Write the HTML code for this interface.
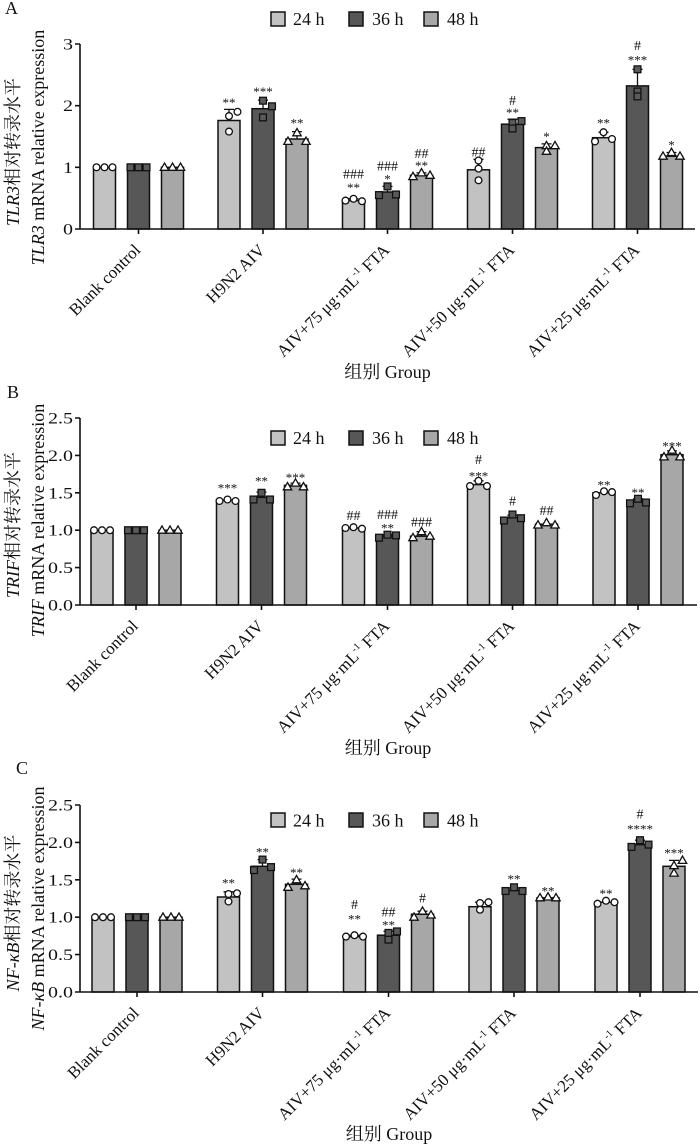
<!DOCTYPE html>
<html><head><meta charset="utf-8"><style>
html,body{margin:0;padding:0;background:#fff}
svg{display:block}
text{font-family:"Liberation Serif","Noto Serif CJK SC",serif;fill:#111}
.bar{stroke:#111;stroke-width:1.5}
.l{fill:#c2c2c2}.d{fill:#575757}.m{fill:#a7a7a7}
.eb{stroke:#111;stroke-width:1.3;fill:none}
.ax{stroke:#111;stroke-width:1.6;fill:none}
.st{font-size:13px;text-anchor:middle}
.hs{font-size:14px;text-anchor:middle}
.tk{font-size:16px;text-anchor:end}
.xl{font-size:17px;text-anchor:end}
.lg{font-size:18px}
.yl{font-size:18px;text-anchor:middle}
.gp{font-size:18px;text-anchor:middle}
.pl{font-size:18px}
</style></head><body>
<svg width="700" height="1145" viewBox="0 0 700 1145" xmlns="http://www.w3.org/2000/svg">
<defs>
<circle id="mc" r="3.4" fill="#fff" stroke="#111" stroke-width="1.3"/>
<rect id="ms" x="-3.4" y="-3.4" width="6.8" height="6.8" fill="#5a5a5a" stroke="#111" stroke-width="1.3"/>
<path id="mt" d="M0,-4.3L4.2,3L-4.2,3Z" fill="#fff" stroke="#111" stroke-width="1.3"/>
</defs>

<!-- ================= PANEL A ================= -->
<text class="pl" x="5" y="14">A</text>
<rect x="271" y="12" width="14" height="14" class="bar l"/><text class="lg" x="293" y="25">24 h</text>
<rect x="349" y="12" width="14" height="14" class="bar d"/><text class="lg" x="372" y="25">36 h</text>
<rect x="424" y="12" width="14" height="14" class="bar m"/><text class="lg" x="447" y="25">48 h</text>

<text class="yl" transform="translate(19,152) rotate(-90)"><tspan font-style="italic">TLR3</tspan>相对转录水平</text>
<text class="yl" transform="translate(44,147.5) rotate(-90)"><tspan font-style="italic">TLR3</tspan> mRNA relative expression</text>

<text class="tk" x="73" y="49.5" textLength="10" lengthAdjust="spacingAndGlyphs">3</text>
<text class="tk" x="73" y="111.2" textLength="10" lengthAdjust="spacingAndGlyphs">2</text>
<text class="tk" x="73" y="172.8" textLength="10" lengthAdjust="spacingAndGlyphs">1</text>
<text class="tk" x="73" y="234.5" textLength="10" lengthAdjust="spacingAndGlyphs">0</text>

<!-- A G1 -->
<rect class="bar l" x="93.5" y="167.3" width="22" height="61.7"/>
<rect class="bar d" x="127.5" y="167.3" width="22" height="61.7"/>
<rect class="bar m" x="161.5" y="167.3" width="22" height="61.7"/>
<use href="#mc" x="96.5" y="167.3"/><use href="#mc" x="104.5" y="167.3"/><use href="#mc" x="112.5" y="167.3"/>
<use href="#ms" x="130.5" y="167.3"/><use href="#ms" x="138.5" y="167.3"/><use href="#ms" x="146.5" y="167.3"/>
<use href="#mt" x="164.5" y="167.3"/><use href="#mt" x="172.5" y="167.3"/><use href="#mt" x="180.5" y="167.3"/>
<!-- A G2 -->
<rect class="bar l" x="218" y="120.5" width="22" height="108.5"/>
<path class="eb" d="M229,120.5V109.4M224,109.4H234"/>
<use href="#mc" x="229" y="116.1"/><use href="#mc" x="237.5" y="111.8"/><use href="#mc" x="229" y="131.6"/>
<rect class="bar d" x="252" y="108.7" width="22" height="120.3"/>
<path class="eb" d="M263,108.7V100.1M258,100.1H268"/>
<use href="#ms" x="263" y="100.7"/><use href="#ms" x="272" y="106.3"/><use href="#ms" x="263" y="117.4"/>
<rect class="bar m" x="286" y="139" width="22" height="90"/>
<path class="eb" d="M297,139V131.6M292,131.6H302"/>
<use href="#mt" x="288" y="141.4"/><use href="#mt" x="297" y="132.8"/><use href="#mt" x="306" y="141.4"/>
<text class="st" x="229" y="107">**</text>
<text class="st" x="263" y="96">***</text>
<text class="st" x="297" y="127.7">**</text>
<!-- A G3 -->
<rect class="bar l" x="342.5" y="200.6" width="22" height="28.4"/>
<path class="eb" d="M353.5,200.6V198.8M348.5,198.8H358.5"/>
<use href="#mc" x="345.5" y="200.6"/><use href="#mc" x="353.5" y="198.8"/><use href="#mc" x="362" y="201.2"/>
<rect class="bar d" x="376.5" y="192" width="22" height="37"/>
<path class="eb" d="M387.5,192V186.4M382.5,186.4H392.5"/>
<use href="#ms" x="379" y="195.1"/><use href="#ms" x="387.5" y="186.4"/><use href="#ms" x="396" y="194.5"/>
<rect class="bar m" x="410.5" y="175.3" width="22" height="53.7"/>
<path class="eb" d="M421.5,175.3V172.9M416.5,172.9H426.5"/>
<use href="#mt" x="413" y="176.6"/><use href="#mt" x="421.5" y="172.9"/><use href="#mt" x="430" y="175.3"/>
<text class="st" x="353.5" y="192">**</text><text class="hs" x="353.5" y="178.3">###</text>
<text class="st" x="387.5" y="183.7">*</text><text class="hs" x="387.5" y="170.7">###</text>
<text class="st" x="421.5" y="170">**</text><text class="hs" x="421.5" y="158">##</text>
<!-- A G4 -->
<rect class="bar l" x="467.5" y="169.8" width="22" height="59.2"/>
<path class="eb" d="M478.5,169.8V159.3M473.5,159.3H483.5"/>
<use href="#mc" x="478.5" y="160.5"/><use href="#mc" x="478.5" y="168.6"/><use href="#mc" x="478.5" y="180.3"/>
<rect class="bar d" x="501.5" y="124.2" width="22" height="104.8"/>
<path class="eb" d="M512.5,124.2V119.2M507.5,119.2H517.5"/>
<use href="#ms" x="512.5" y="122.9"/><use href="#ms" x="512.5" y="128.5"/><use href="#ms" x="521.5" y="121.1"/>
<rect class="bar m" x="535.5" y="147.6" width="22" height="81.4"/>
<path class="eb" d="M546.5,147.6V143.9M541.5,143.9H551.5"/>
<use href="#mt" x="546.5" y="145.7"/><use href="#mt" x="546.5" y="151.3"/><use href="#mt" x="555" y="145.7"/>
<text class="hs" x="478.5" y="156.7">##</text>
<text class="st" x="512.5" y="117">**</text><text class="hs" x="512.5" y="105">#</text>
<text class="st" x="546.5" y="141">*</text>
<!-- A G5 -->
<rect class="bar l" x="592.5" y="137.7" width="22" height="91.3"/>
<path class="eb" d="M603.5,137.7V132.2M598.5,132.2H608.5"/>
<use href="#mc" x="595" y="141.4"/><use href="#mc" x="603.5" y="132.2"/><use href="#mc" x="612" y="139"/>
<rect class="bar d" x="626.5" y="85.9" width="22" height="143.1"/>
<path class="eb" d="M637.5,85.9V69.3M632.5,69.3H642.5"/>
<use href="#ms" x="637.5" y="69.3"/><use href="#ms" x="637.5" y="91.5"/><use href="#ms" x="637.5" y="96.4"/>
<rect class="bar m" x="660.5" y="156.2" width="22" height="72.8"/>
<path class="eb" d="M671.5,156.2V152.5M666.5,152.5H676.5"/>
<use href="#mt" x="663" y="156.2"/><use href="#mt" x="671.5" y="152.5"/><use href="#mt" x="680" y="156.2"/>
<text class="st" x="603.5" y="127.7">**</text>
<text class="st" x="637.5" y="64.3">***</text><text class="hs" x="637.5" y="50">#</text>
<text class="st" x="671.5" y="149.7">*</text>

<path class="ax" d="M80,44V229H695M75,44H80M75,105.7H80M75,167.3H80M75,229H80M138.5,229V234M263,229V234M387.5,229V234M512.5,229V234M637.5,229V234"/>

<text class="xl" transform="translate(141.5,251) rotate(-45)">Blank control</text>
<text class="xl" transform="translate(266,251) rotate(-45)">H9N2 AIV</text>
<text class="xl" transform="translate(390.5,251) rotate(-45)">AIV+75 μg·mL<tspan font-size="10" dy="-7">-1</tspan><tspan dy="7"> FTA</tspan></text>
<text class="xl" transform="translate(515.5,251) rotate(-45)">AIV+50 μg·mL<tspan font-size="10" dy="-7">-1</tspan><tspan dy="7"> FTA</tspan></text>
<text class="xl" transform="translate(640.5,251) rotate(-45)">AIV+25 μg·mL<tspan font-size="10" dy="-7">-1</tspan><tspan dy="7"> FTA</tspan></text>
<text class="gp" x="387.5" y="378">组别 Group</text>

<!-- ================= PANEL B ================= -->
<text class="pl" x="7" y="398">B</text>
<rect x="271" y="431" width="14" height="14" class="bar l"/><text class="lg" x="293" y="444">24 h</text>
<rect x="349" y="431" width="14" height="14" class="bar d"/><text class="lg" x="372" y="444">36 h</text>
<rect x="424" y="431" width="14" height="14" class="bar m"/><text class="lg" x="447" y="444">48 h</text>

<text class="yl" transform="translate(19,525) rotate(-90)"><tspan font-style="italic">TRIF</tspan>相对转录水平</text>
<text class="yl" transform="translate(44,520.5) rotate(-90)"><tspan font-style="italic">TRIF</tspan> mRNA relative expression</text>

<text class="tk" x="73" y="423.5" textLength="25" lengthAdjust="spacingAndGlyphs">2.5</text>
<text class="tk" x="73" y="460.9" textLength="25" lengthAdjust="spacingAndGlyphs">2.0</text>
<text class="tk" x="73" y="498.3" textLength="25" lengthAdjust="spacingAndGlyphs">1.5</text>
<text class="tk" x="73" y="535.7" textLength="25" lengthAdjust="spacingAndGlyphs">1.0</text>
<text class="tk" x="73" y="573.1" textLength="25" lengthAdjust="spacingAndGlyphs">0.5</text>
<text class="tk" x="73" y="610.5" textLength="25" lengthAdjust="spacingAndGlyphs">0.0</text>

<!-- B G1 -->
<rect class="bar l" x="91" y="530.2" width="22" height="74.8"/>
<rect class="bar d" x="125" y="530.2" width="22" height="74.8"/>
<rect class="bar m" x="159" y="530.2" width="22" height="74.8"/>
<use href="#mc" x="94" y="530.2"/><use href="#mc" x="102" y="530.2"/><use href="#mc" x="110" y="530.2"/>
<use href="#ms" x="128" y="530.2"/><use href="#ms" x="136" y="530.2"/><use href="#ms" x="144" y="530.2"/>
<use href="#mt" x="162" y="530.2"/><use href="#mt" x="170" y="530.2"/><use href="#mt" x="178" y="530.2"/>
<!-- B G2 -->
<rect class="bar l" x="216.5" y="500.3" width="22" height="104.7"/>
<use href="#mc" x="219.5" y="501"/><use href="#mc" x="227.5" y="499.5"/><use href="#mc" x="235.5" y="501"/>
<rect class="bar d" x="250.5" y="497.3" width="22" height="107.7"/>
<path class="eb" d="M261.5,497.3V492.1M256.5,492.1H266.5"/>
<use href="#ms" x="253.5" y="499.5"/><use href="#ms" x="261.5" y="492.8"/><use href="#ms" x="270" y="499.5"/>
<rect class="bar m" x="284.5" y="485.3" width="22" height="119.7"/>
<path class="eb" d="M295.5,485.3V483.1M290.5,483.1H300.5"/>
<use href="#mt" x="287.5" y="486.8"/><use href="#mt" x="295.5" y="483.1"/><use href="#mt" x="303.5" y="486.8"/>
<text class="st" x="227.5" y="492.7">***</text>
<text class="st" x="261.5" y="485.3">**</text>
<text class="st" x="295.5" y="482">***</text>
<!-- B G3 -->
<rect class="bar l" x="342.5" y="528" width="22" height="77"/>
<use href="#mc" x="345.5" y="528"/><use href="#mc" x="353.5" y="527.2"/><use href="#mc" x="362" y="528.7"/>
<rect class="bar d" x="376.5" y="536.2" width="22" height="68.8"/>
<path class="eb" d="M387.5,536.2V534.7M382.5,534.7H392.5"/>
<use href="#ms" x="379" y="537.7"/><use href="#ms" x="387.5" y="534.7"/><use href="#ms" x="396" y="535.4"/>
<rect class="bar m" x="410.5" y="536.2" width="22" height="68.8"/>
<path class="eb" d="M421.5,536.2V531.7M416.5,531.7H426.5"/>
<use href="#mt" x="413" y="537.7"/><use href="#mt" x="421.5" y="531.7"/><use href="#mt" x="430" y="536.2"/>
<text class="hs" x="353.5" y="520">##</text>
<text class="st" x="387.5" y="532.7">**</text><text class="hs" x="387.5" y="519">###</text>
<text class="hs" x="421.5" y="526.7">###</text>
<!-- B G4 -->
<rect class="bar l" x="467.5" y="484.6" width="22" height="120.4"/>
<path class="eb" d="M478.5,484.6V480.8M473.5,480.8H483.5"/>
<use href="#mc" x="470" y="486.1"/><use href="#mc" x="478.5" y="480.8"/><use href="#mc" x="487" y="486.1"/>
<rect class="bar d" x="501.5" y="517.5" width="22" height="87.5"/>
<path class="eb" d="M512.5,517.5V515.2M507.5,515.2H517.5"/>
<use href="#ms" x="504" y="520.5"/><use href="#ms" x="512.5" y="514.5"/><use href="#ms" x="521" y="518.2"/>
<rect class="bar m" x="535.5" y="524.2" width="22" height="80.8"/>
<use href="#mt" x="538" y="525"/><use href="#mt" x="546.5" y="522.7"/><use href="#mt" x="555" y="525"/>
<text class="st" x="478.5" y="480.3">***</text><text class="hs" x="478.5" y="464">#</text>
<text class="hs" x="512.5" y="505.7">#</text>
<text class="hs" x="546.5" y="515">##</text>
<!-- B G5 -->
<rect class="bar l" x="593" y="492.8" width="22" height="112.2"/>
<use href="#mc" x="596" y="495"/><use href="#mc" x="604" y="491.3"/><use href="#mc" x="612" y="492.1"/>
<rect class="bar d" x="627" y="501.8" width="22" height="103.2"/>
<path class="eb" d="M638,501.8V498.8M633,498.8H643"/>
<use href="#ms" x="630" y="503.3"/><use href="#ms" x="638" y="498.8"/><use href="#ms" x="646" y="502.5"/>
<rect class="bar m" x="661" y="454.7" width="22" height="150.3"/>
<path class="eb" d="M672,454.7V450.9M667,450.9H677"/>
<use href="#mt" x="664" y="456.9"/><use href="#mt" x="672" y="450.2"/><use href="#mt" x="680" y="456.9"/>
<text class="st" x="604" y="489.3">**</text>
<text class="st" x="638" y="497">**</text>
<text class="st" x="672" y="450.3">***</text>

<path class="ax" d="M80,418V605H697M75,418H80M75,455.4H80M75,492.8H80M75,530.2H80M75,567.6H80M75,605H80M136,605V610M261.5,605V610M387.5,605V610M512.5,605V610M638,605V610"/>

<text class="xl" transform="translate(139,627) rotate(-45)">Blank control</text>
<text class="xl" transform="translate(264.5,627) rotate(-45)">H9N2 AIV</text>
<text class="xl" transform="translate(390.5,627) rotate(-45)">AIV+75 μg·mL<tspan font-size="10" dy="-7">-1</tspan><tspan dy="7"> FTA</tspan></text>
<text class="xl" transform="translate(515.5,627) rotate(-45)">AIV+50 μg·mL<tspan font-size="10" dy="-7">-1</tspan><tspan dy="7"> FTA</tspan></text>
<text class="xl" transform="translate(641,627) rotate(-45)">AIV+25 μg·mL<tspan font-size="10" dy="-7">-1</tspan><tspan dy="7"> FTA</tspan></text>
<text class="gp" x="388" y="754">组别 Group</text>

<!-- ================= PANEL C ================= -->
<text class="pl" x="16" y="774">C</text>
<rect x="271" y="813" width="14" height="14" class="bar l"/><text class="lg" x="293" y="826.5">24 h</text>
<rect x="349" y="813" width="14" height="14" class="bar d"/><text class="lg" x="372" y="826.5">36 h</text>
<rect x="424" y="813" width="14" height="14" class="bar m"/><text class="lg" x="447" y="826.5">48 h</text>

<text class="yl" transform="translate(19,913) rotate(-90)"><tspan font-style="italic">NF-κB</tspan>相对转录水平</text>
<text class="yl" transform="translate(44,908.5) rotate(-90)"><tspan font-style="italic">NF-κB</tspan> mRNA relative expression</text>

<text class="tk" x="73" y="810.5" textLength="25" lengthAdjust="spacingAndGlyphs">2.5</text>
<text class="tk" x="73" y="847.9" textLength="25" lengthAdjust="spacingAndGlyphs">2.0</text>
<text class="tk" x="73" y="885.3" textLength="25" lengthAdjust="spacingAndGlyphs">1.5</text>
<text class="tk" x="73" y="922.7" textLength="25" lengthAdjust="spacingAndGlyphs">1.0</text>
<text class="tk" x="73" y="960.1" textLength="25" lengthAdjust="spacingAndGlyphs">0.5</text>
<text class="tk" x="73" y="997.5" textLength="25" lengthAdjust="spacingAndGlyphs">0.0</text>

<!-- C G1 -->
<rect class="bar l" x="92" y="917.2" width="22" height="74.8"/>
<rect class="bar d" x="126" y="917.2" width="22" height="74.8"/>
<rect class="bar m" x="160" y="917.2" width="22" height="74.8"/>
<use href="#mc" x="95" y="917.2"/><use href="#mc" x="103" y="917.2"/><use href="#mc" x="111" y="917.2"/>
<use href="#ms" x="129" y="917.2"/><use href="#ms" x="137" y="917.2"/><use href="#ms" x="145" y="917.2"/>
<use href="#mt" x="163" y="917.2"/><use href="#mt" x="171" y="917.2"/><use href="#mt" x="179" y="917.2"/>
<!-- C G2 -->
<rect class="bar l" x="217.5" y="897" width="22" height="95"/>
<path class="eb" d="M228.5,897V891.8M223.5,891.8H233.5"/>
<use href="#mc" x="228.5" y="894"/><use href="#mc" x="237" y="893.3"/><use href="#mc" x="228.5" y="901.5"/>
<rect class="bar d" x="251.5" y="866.3" width="22" height="125.7"/>
<path class="eb" d="M262.5,866.3V859.6M257.5,859.6H267.5"/>
<use href="#ms" x="254" y="870.1"/><use href="#ms" x="262.5" y="859.6"/><use href="#ms" x="271" y="867.1"/>
<rect class="bar m" x="285.5" y="884.3" width="22" height="107.7"/>
<path class="eb" d="M296.5,884.3V879.1M291.5,879.1H301.5"/>
<use href="#mt" x="288" y="887.3"/><use href="#mt" x="296.5" y="879.8"/><use href="#mt" x="305" y="885.8"/>
<text class="st" x="228.5" y="887.7">**</text>
<text class="st" x="262.5" y="856.3">**</text>
<text class="st" x="296.5" y="877">**</text>
<!-- C G3 -->
<rect class="bar l" x="343.5" y="936.6" width="22" height="55.4"/>
<path class="eb" d="M354.5,936.6V935.2M349.5,935.2H359.5"/>
<use href="#mc" x="346" y="936.6"/><use href="#mc" x="354.5" y="935.2"/><use href="#mc" x="363" y="936.6"/>
<rect class="bar d" x="377.5" y="935.2" width="22" height="56.8"/>
<path class="eb" d="M388.5,935.2V931.4M383.5,931.4H393.5"/>
<use href="#ms" x="388.5" y="939.6"/><use href="#ms" x="388.5" y="932.9"/><use href="#ms" x="397" y="931.4"/>
<rect class="bar m" x="411.5" y="914.2" width="22" height="77.8"/>
<path class="eb" d="M422.5,914.2V911.2M417.5,911.2H427.5"/>
<use href="#mt" x="414" y="917.2"/><use href="#mt" x="422.5" y="911.2"/><use href="#mt" x="431" y="915"/>
<text class="st" x="354.5" y="923.7">**</text><text class="hs" x="354.5" y="909">#</text>
<text class="st" x="388.5" y="929.3">**</text><text class="hs" x="388.5" y="916.7">##</text>
<text class="hs" x="422.5" y="902.7">#</text>
<!-- C G4 -->
<rect class="bar l" x="469" y="906.7" width="22" height="85.3"/>
<path class="eb" d="M480,906.7V902.2M475,902.2H485"/>
<use href="#mc" x="480" y="909.7"/><use href="#mc" x="480" y="903"/><use href="#mc" x="488.5" y="902.2"/>
<rect class="bar d" x="503" y="890.3" width="22" height="101.7"/>
<path class="eb" d="M514,890.3V888M509,888H519"/>
<use href="#ms" x="505.5" y="891"/><use href="#ms" x="514" y="887.3"/><use href="#ms" x="522.5" y="891"/>
<rect class="bar m" x="537" y="897.8" width="22" height="94.2"/>
<use href="#mt" x="540" y="897.8"/><use href="#mt" x="548" y="897"/><use href="#mt" x="556" y="897.8"/>
<text class="st" x="514" y="883.7">**</text>
<text class="st" x="548" y="895.3">**</text>
<!-- C G5 -->
<rect class="bar l" x="595" y="902.2" width="22" height="89.8"/>
<use href="#mc" x="597.5" y="903.7"/><use href="#mc" x="606" y="900.7"/><use href="#mc" x="614.5" y="902.2"/>
<rect class="bar d" x="629" y="844.6" width="22" height="147.4"/>
<path class="eb" d="M640,844.6V840.2M635,840.2H645"/>
<use href="#ms" x="631.5" y="846.9"/><use href="#ms" x="640" y="840.2"/><use href="#ms" x="648.5" y="844.6"/>
<rect class="bar m" x="663" y="866.3" width="22" height="125.7"/>
<path class="eb" d="M674,866.3V860.4M669,860.4H679"/>
<use href="#mt" x="674" y="873.1"/><use href="#mt" x="674" y="865.6"/><use href="#mt" x="682.5" y="860.4"/>
<text class="st" x="606" y="898">**</text>
<text class="st" x="640" y="833.7">****</text><text class="hs" x="640" y="818.3">#</text>
<text class="st" x="674" y="857.7">***</text>

<path class="ax" d="M80,805V992H698M75,805H80M75,842.4H80M75,879.8H80M75,917.2H80M75,954.6H80M75,992H80M137,992V997M262.5,992V997M388.5,992V997M514,992V997M640,992V997"/>

<text class="xl" transform="translate(140,1014) rotate(-45)">Blank control</text>
<text class="xl" transform="translate(265.5,1014) rotate(-45)">H9N2 AIV</text>
<text class="xl" transform="translate(391.5,1014) rotate(-45)">AIV+75 μg·mL<tspan font-size="10" dy="-7">-1</tspan><tspan dy="7"> FTA</tspan></text>
<text class="xl" transform="translate(517,1014) rotate(-45)">AIV+50 μg·mL<tspan font-size="10" dy="-7">-1</tspan><tspan dy="7"> FTA</tspan></text>
<text class="xl" transform="translate(643,1014) rotate(-45)">AIV+25 μg·mL<tspan font-size="10" dy="-7">-1</tspan><tspan dy="7"> FTA</tspan></text>
<text class="gp" x="389" y="1140">组别 Group</text>
</svg>
</body></html>
